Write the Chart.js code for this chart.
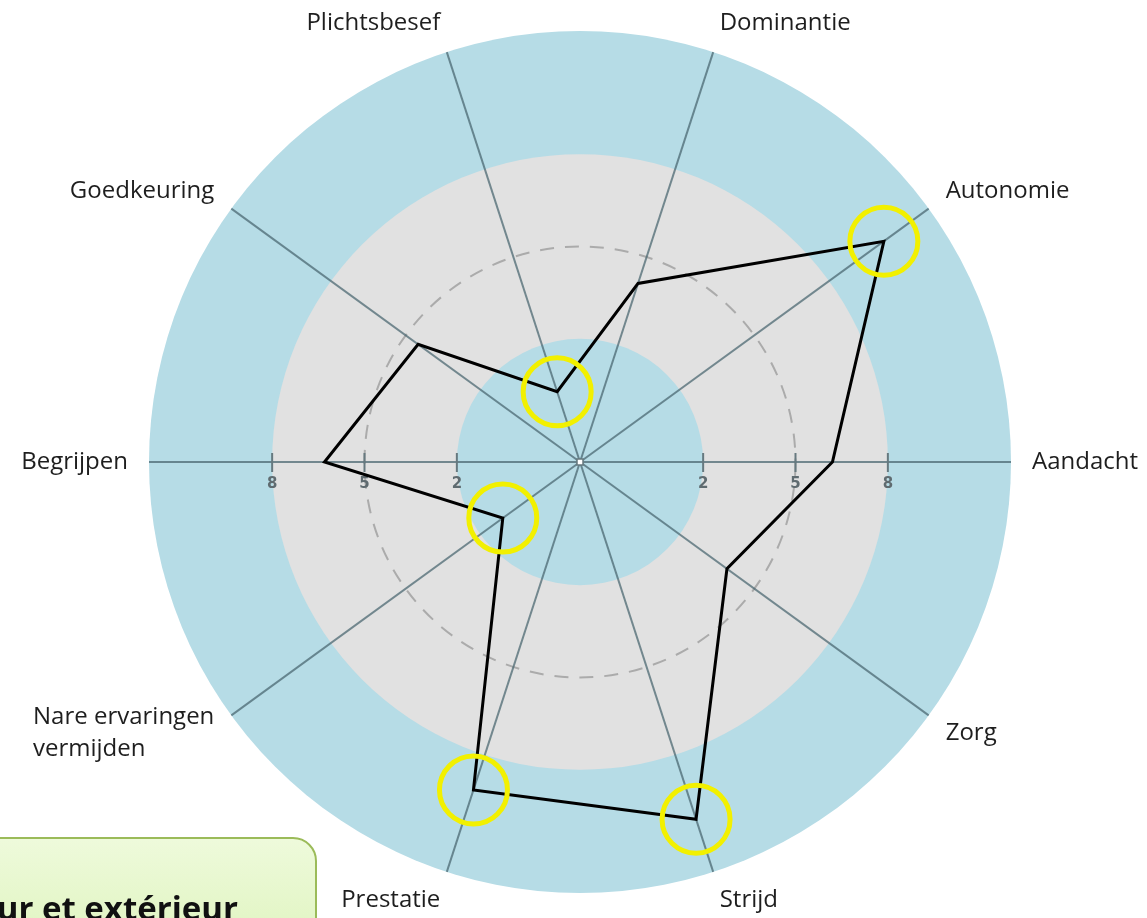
<!DOCTYPE html>
<html lang="nl">
<head>
    <meta charset="UTF-8">
    <title>Motivatieprofiel</title>
    <script src="https://cdn.jsdelivr.net/npm/chart.js@4.4.0/dist/chart.umd.min.js"></script>
    <style>
        html, body { margin: 0; padding: 0; background: #fff; overflow: hidden; }
        #wrap { position: relative; width: 1147px; height: 918px; overflow: hidden; }
        #note {
            position: absolute; left: -300px; top: 837px; width: 617px; height: 140px;
            box-sizing: border-box; border: 2px solid #9bbb59; border-radius: 24px;
            background: linear-gradient(#eefadb, #dcf3b9);
        }
        #note span {
            position: absolute; right: 77px; top: 49px; white-space: nowrap;
            font: bold 33px/40px "Open Sans", sans-serif; color: #111;
        }
    </style>
</head>
<body>
<div id="wrap">
    <canvas id="myChart" width="1147" height="918"></canvas>
    <div id="note"><span>Intérieur et extérieur</span></div>
</div>

<script>
    // assen, met de klok mee vanaf rechts
    var labels = ['Aandacht', 'Zorg', 'Strijd', 'Prestatie', ['Nare ervaringen', 'vermijden'],
                  'Begrijpen', 'Goedkeuring', 'Plichtsbesef', 'Dominantie', 'Autonomie'];
    var scores = [6.2, 3.9, 10.2, 9.2, 1.1, 6.3, 4.5, 0.4, 4.1, 10.2];
    // omcirkelde punten
    var highlighted = ['Strijd', 'Prestatie', 'Nare ervaringen', 'Plichtsbesef', 'Autonomie'];
    var tickValues = [2, 5, 8];
    var scaleMin = -2, scaleMax = 12;

    var blue = '#b6dce6';
    var grey = '#e1e1e1';

    function labelName(l) { return Array.isArray(l) ? l[0] : l; }

    var marked = scores.map(function (v, i) {
        return highlighted.indexOf(labelName(labels[i])) >= 0 ? v : null;
    });

    // achtergrondringen + stippelcirkel
    var ringsPlugin = {
        id: 'rings',
        beforeDraw: function (chart) {
            var s = chart.scales.r, c = chart.ctx;
            function disc(v, color) {
                c.beginPath();
                c.arc(s.xCenter, s.yCenter, s.getDistanceFromCenterForValue(v), 0, Math.PI * 2);
                c.fillStyle = color;
                c.fill();
            }
            c.save();
            disc(scaleMax, blue);
            disc(tickValues[2], grey);
            disc(tickValues[0], blue);
            c.beginPath();
            c.arc(s.xCenter, s.yCenter, s.getDistanceFromCenterForValue(tickValues[1]), 0, Math.PI * 2);
            c.setLineDash([14, 11]);
            c.lineWidth = 2;
            c.strokeStyle = '#ababab';
            c.stroke();
            c.restore();
        },
        beforeDatasetsDraw: function (chart) {
            var s = chart.scales.r, c = chart.ctx;
            c.save();
            c.strokeStyle = '#66797f';
            c.lineWidth = 2;
            c.fillStyle = '#5f6b70';
            c.font = 'bold 15px "DejaVu Sans"';
            c.textAlign = 'center';
            c.textBaseline = 'middle';
            tickValues.forEach(function (v) {
                var d = s.getDistanceFromCenterForValue(v);
                [-1, 1].forEach(function (side) {
                    var x = s.xCenter + side * d;
                    c.beginPath();
                    c.moveTo(x, s.yCenter - 9);
                    c.lineTo(x, s.yCenter + 10);
                    c.stroke();
                    c.fillText(String(v), x, s.yCenter + 22);
                });
            });
            // middelpunt
            c.fillStyle = '#fff';
            c.fillRect(s.xCenter - 3, s.yCenter - 3, 6, 6);
            c.lineWidth = 1.5;
            c.strokeRect(s.xCenter - 3, s.yCenter - 3, 6, 6);
            c.restore();
        }
    };

    // aslabels
    var labelPlugin = {
        id: 'axisLabels',
        afterDraw: function (chart) {
            var s = chart.scales.r, c = chart.ctx;
            var lh = 32;
            c.save();
            c.font = '24px "Open Sans"';
            c.fillStyle = '#1e1e1e';
            c.textBaseline = 'middle';
            c.textAlign = 'left';
            labels.forEach(function (lab, i) {
                var p = s.getPointPosition(i, s.drawingArea + 21);
                var a = s.getIndexAngle(i) - Math.PI / 2;
                var ca = Math.cos(a), sa = Math.sin(a);
                var lines = Array.isArray(lab) ? lab : [lab];
                var w = Math.max.apply(null, lines.map(function (l) { return c.measureText(l).width; }));
                var x = ca > 0.01 ? p.x : (ca < -0.01 ? p.x - w : p.x - w / 2);
                var y = p.y + sa * 9 - (lines.length - 1) * lh / 2;
                lines.forEach(function (l, k) { c.fillText(l, x, y + k * lh); });
            });
            c.restore();
        }
    };

    var ctx = document.getElementById('myChart');
    var myChart = new Chart(ctx, {
        type: 'radar',
        data: {
            labels: labels,
            datasets: [
                {
                    label: 'markering',
                    data: marked,
                    showLine: false,
                    fill: false,
                    backgroundColor: 'rgba(0,0,0,0)',
                    borderColor: 'rgba(0,0,0,0)',
                    pointRadius: 34,
                    pointHoverRadius: 34,
                    pointBorderWidth: 5,
                    pointHoverBorderWidth: 5,
                    pointBorderColor: '#f2f000',
                    pointBackgroundColor: 'rgba(0,0,0,0)'
                },
                {
                    label: 'profiel',
                    data: scores,
                    fill: false,
                    backgroundColor: 'rgba(0,0,0,0)',
                    borderColor: '#000',
                    borderWidth: 3,
                    borderJoinStyle: 'miter',
                    pointRadius: 0,
                    tension: 0
                }
            ]
        },
        options: {
            responsive: false,
            animation: false,
            layout: { padding: { left: 13, right: 0, top: 31, bottom: 25 } },
            plugins: {
                legend: { display: false },
                tooltip: { enabled: false }
            },
            scales: {
                r: {
                    min: scaleMin,
                    max: scaleMax,
                    startAngle: 90,
                    ticks: { display: false },
                    grid: { display: false },
                    angleLines: { color: 'rgba(70,100,110,0.72)', lineWidth: 2 },
                    pointLabels: { display: false }
                }
            }
        },
        plugins: [ringsPlugin, labelPlugin]
    });
</script>
</body>
</html>
